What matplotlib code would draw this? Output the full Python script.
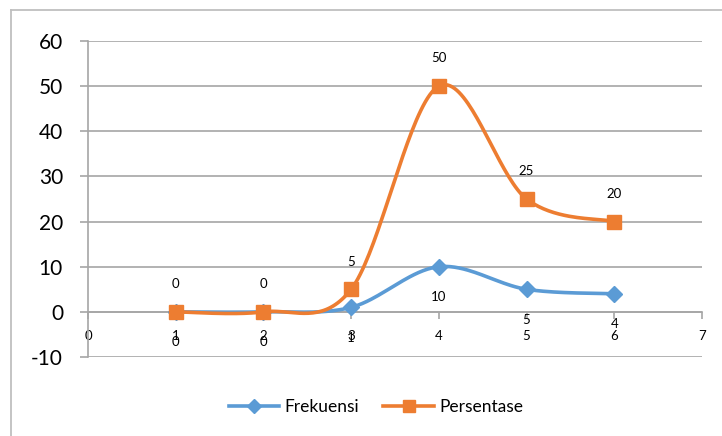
import numpy as np
import matplotlib
matplotlib.use("Agg")
import matplotlib.pyplot as plt
from matplotlib.lines import Line2D

plt.rcParams['font.family'] = ['Lato', 'DejaVu Sans']
plt.rcParams['axes.unicode_minus'] = False

# data
x_vals = [1, 2, 3, 4, 5, 6]
frekuensi = [0, 0, 1, 10, 5, 4]
persentase = [0, 0, 5, 50, 25, 20]
x_ticks = [0, 1, 2, 3, 4, 5, 6, 7]
y_ticks = [-10, 0, 10, 20, 30, 40, 50, 60]

blue = '#5B9BD5'
orange = '#ED7D31'
grid_c = '#A6A6A6'


def smooth(xs, ys, n=40):
    # kurva halus gaya excel (bezier dengan titik kontrol 1/6)
    p = np.column_stack([xs, ys]).astype(float)
    pp = np.vstack([p[0], p, p[-1]])
    out = [p[0]]
    t = np.linspace(0, 1, n)[1:, None]
    for i in range(len(p) - 1):
        p0 = pp[i + 1]
        p3 = pp[i + 2]
        c1 = p0 + (pp[i + 2] - pp[i]) / 6
        c2 = p3 - (pp[i + 3] - pp[i + 1]) / 6
        seg = (1 - t) ** 3 * p0 + 3 * (1 - t) ** 2 * t * c1 + 3 * (1 - t) * t ** 2 * c2 + t ** 3 * p3
        out.extend(seg)
    out = np.array(out)
    return out[:, 0], out[:, 1]


fig = plt.figure(figsize=(7.22, 4.36), dpi=100)
ax = fig.add_axes([88 / 722, 1 - 357 / 436, (702 - 88) / 722, (357 - 41) / 436])

ax.set_xlim(0, 7)
ax.set_ylim(-10, 60)
ax.set_yticks(y_ticks)
ax.set_xticks(x_ticks)
ax.yaxis.grid(True, color=grid_c, lw=1.2)
ax.set_axisbelow(True)
for s in ['top', 'right']:
    ax.spines[s].set_visible(False)
ax.spines['left'].set_color(grid_c)
ax.spines['left'].set_linewidth(1.2)
ax.spines['bottom'].set_position(('data', 0))
ax.spines['bottom'].set_color(grid_c)
ax.spines['bottom'].set_linewidth(1.2)
ax.tick_params(axis='y', length=6, color=grid_c, width=1.2, labelsize=15, pad=12)
ax.tick_params(axis='x', length=5, color=grid_c, width=1.2, labelsize=9.5, pad=8)

sx, sy = smooth(x_vals, frekuensi)
ax.plot(sx, sy, color=blue, lw=2.6, solid_capstyle='round', zorder=3)
ax.plot(x_vals, frekuensi, ls='none', marker='D', ms=8.5, color=blue, zorder=4)
sx, sy = smooth(x_vals, persentase)
ax.plot(sx, sy, color=orange, lw=2.6, solid_capstyle='round', zorder=5)
ax.plot(x_vals, persentase, ls='none', marker='s', ms=10, color=orange, zorder=6)

for x, y in zip(x_vals, persentase):
    ax.annotate(str(y), (x, y), xytext=(0, 20), textcoords='offset points',
                ha='center', va='center', fontsize=9.5)
for x, y in zip(x_vals, frekuensi):
    ax.annotate(str(y), (x, y), xytext=(0, -22), textcoords='offset points',
                ha='center', va='center', fontsize=9.5)

handles = [Line2D([], [], color=blue, lw=2.6, marker='D', ms=7),
           Line2D([], [], color=orange, lw=2.6, marker='s', ms=8)]
fig.legend(handles, ['Frekuensi', 'Persentase'], loc='center',
           bbox_to_anchor=(376 / 722, 1 - 407 / 436),
           ncol=2, frameon=False, fontsize=12.5, handlelength=2.9,
           columnspacing=1.4, handletextpad=0.3)

# bingkai chart
fig.add_artist(Line2D([11 / 722, 11 / 722], [0, 1 - 10 / 436], color='#BFBFBF', lw=1.3))
fig.add_artist(Line2D([11 / 722, 1], [1 - 10 / 436, 1 - 10 / 436], color='#BFBFBF', lw=1.3))

fig.savefig('out.png', dpi=100)
